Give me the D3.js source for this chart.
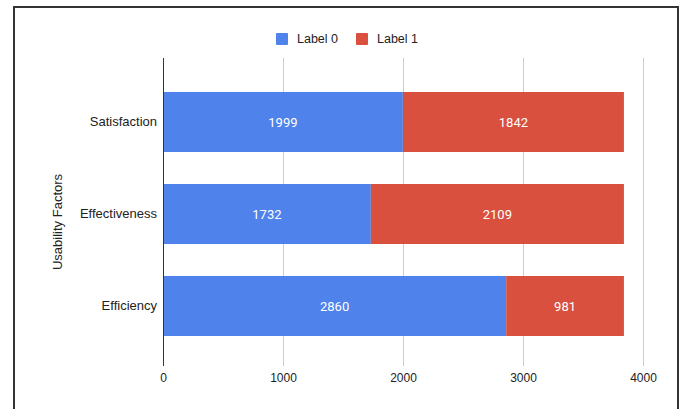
<!DOCTYPE html>
<html><head><meta charset="utf-8">
<script src="https://cdn.jsdelivr.net/npm/d3@7"></script>
<style>html,body{margin:0;padding:0;background:#fff;}svg{display:block;}</style>
</head><body>
<script>
const categories = ["Satisfaction", "Effectiveness", "Efficiency"];
const seriesNames = ["Label 0", "Label 1"];
const label0 = [1999, 1732, 2860];
const label1 = [1842, 2109, 981];
const xTicks = [0, 1000, 2000, 3000, 4000];
const colors = ["#4f83eb", "#d9503f"];

const W = 680, H = 409;
const svg = d3.select("body").append("svg").attr("width", W).attr("height", H);

// frame
svg.append("rect").attr("x", 14).attr("y", 7).attr("width", 664).attr("height", 430)
  .attr("fill", "none").attr("stroke", "#333").attr("stroke-width", 2);

const x = d3.scaleLinear().domain([0, 4000]).range([163, 643]);
const y = d3.scaleBand().domain(categories).range([76, 352]).paddingInner(32/92).paddingOuter(16/92);

const gridTop = 58, gridBottom = 366;

// gridlines
svg.append("g").selectAll("line").data(xTicks.filter(d => d !== 0)).join("line")
  .attr("x1", d => x(d)).attr("x2", d => x(d))
  .attr("y1", gridTop).attr("y2", gridBottom)
  .attr("stroke", "#cccccc").attr("stroke-width", 1).attr("shape-rendering", "crispEdges");

// stacked data
const rows = categories.map((c, i) => ({cat: c, v: [label0[i], label1[i]]}));
const barsG = svg.append("g");
rows.forEach(r => {
  let acc = 0;
  r.v.forEach((val, k) => {
    const x0 = acc, x1 = acc + val;
    acc = x1;
    barsG.append("rect")
      .attr("x", x(x0)).attr("y", y(r.cat))
      .attr("width", x(x1) - x(x0)).attr("height", y.bandwidth())
      .attr("fill", colors[k]);
    barsG.append("text")
      .attr("x", (x(x0) + x(x1)) / 2).attr("y", y(r.cat) + y.bandwidth() / 2)
      .attr("dy", "0.35em").attr("text-anchor", "middle")
      .attr("fill", "#fff").attr("font-family", "Roboto, sans-serif").attr("font-size", 13)
      .text(val);
  });
});

// zero axis line
svg.append("line").attr("x1", x(0)).attr("x2", x(0)).attr("y1", gridTop).attr("y2", gridBottom)
  .attr("stroke", "#333").attr("stroke-width", 1).attr("shape-rendering", "crispEdges");

// x tick labels
const xAxis = d3.axisBottom(x).tickValues(xTicks).tickSize(0).tickPadding(0).tickFormat(d3.format("d"));
const gx = svg.append("g").attr("transform", `translate(0,${gridBottom})`).call(xAxis);
gx.select(".domain").remove();
gx.selectAll("text").attr("y", 12).attr("dy", "0.35em")
  .attr("font-family", "'Liberation Sans', Arial, sans-serif").attr("font-size", 12).attr("fill", "#222");

// y category labels
const yAxis = d3.axisLeft(y).tickSize(0).tickPadding(6);
const gy = svg.append("g").attr("transform", `translate(${x(0)},0)`).call(yAxis);
gy.select(".domain").remove();
gy.selectAll("text").attr("font-family", "'Liberation Sans', Arial, sans-serif").attr("font-size", 13).attr("fill", "#222");

// y title
svg.append("text").attr("transform", "translate(62,222) rotate(-90)")
  .attr("text-anchor", "middle").attr("font-family", "'Liberation Sans', Arial, sans-serif")
  .attr("font-size", 13).attr("fill", "#222").text("Usability Factors");

// legend
const legendX = [276, 356];
const lg = svg.append("g");
seriesNames.forEach((name, i) => {
  lg.append("rect").attr("x", legendX[i]).attr("y", 33).attr("width", 12).attr("height", 12)
    .attr("rx", 1).attr("fill", colors[i]);
  lg.append("text").attr("x", legendX[i] + 21).attr("y", 39).attr("dy", "0.35em")
    .attr("font-family", "'Liberation Sans', Arial, sans-serif").attr("font-size", 12.5).attr("fill", "#222")
    .text(name);
});
</script>
</body></html>
